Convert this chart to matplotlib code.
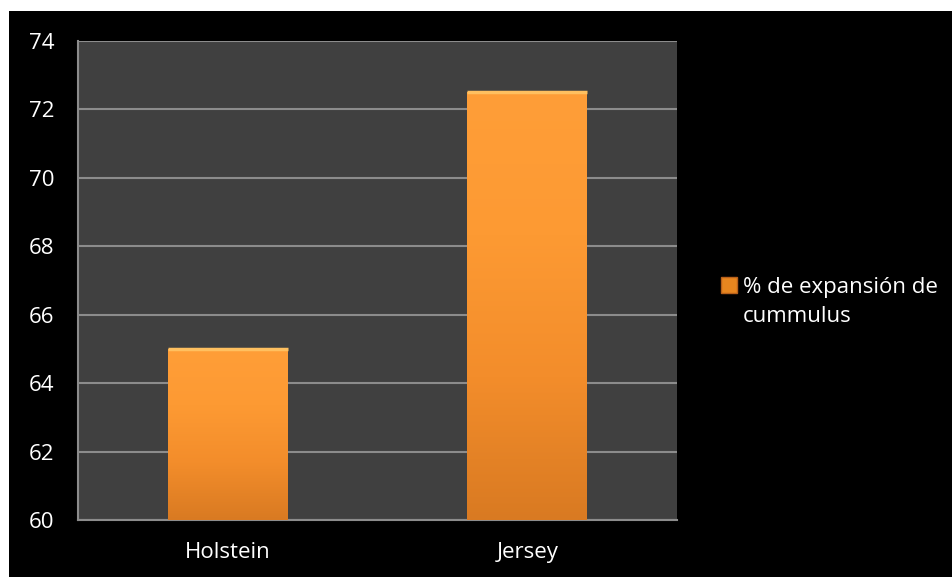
import matplotlib
matplotlib.use("Agg")
import matplotlib.pyplot as plt
import numpy as np
from matplotlib.patches import Rectangle
from matplotlib.colors import LinearSegmentedColormap

categories = ["Holstein", "Jersey"]
values = [65.0, 72.5]
series_name = "% de expansión de\ncummulus"
yticks = [60, 62, 64, 66, 68, 70, 72, 74]

plt.rcParams['font.family'] = ['Open Sans', 'DejaVu Sans']

fig = plt.figure(figsize=(9.52, 5.77), dpi=100, facecolor='white')
W, H = 952, 577
# black chart background
fig.patches.append(Rectangle((9 / W, 0), 1 - 9 / W, 1 - 11 / H, transform=fig.transFigure,
                             facecolor='black', edgecolor='none', zorder=-10))

ax = fig.add_axes([78 / W, 1 - 520 / H, (677 - 78) / W, (520 - 41) / H])
ax.set_zorder(1)
ax.set_facecolor('#404040')

x = np.arange(len(categories))
bars = ax.bar(x, values, width=0.4, color='#F7932E', zorder=3, edgecolor='none')

cmap = LinearSegmentedColormap.from_list('org', ['#D97A22', '#F38D2B', '#FD9A33', '#FF9E38'])
for b in bars:
    x0, y0 = b.get_x(), b.get_y()
    w, h = b.get_width(), b.get_height()
    grad = np.linspace(0, 1, 256).reshape(-1, 1)
    im = ax.imshow(grad, cmap=cmap, origin='lower', aspect='auto',
                   extent=(x0, x0 + w, 60, y0 + h), zorder=3.5)
    im.set_clip_path(b)
    ax.plot([x0, x0 + w], [y0 + h, y0 + h], color='#FFC060', lw=2.5, zorder=4,
            solid_capstyle='butt')

ax.set_xlim(-0.5, 1.5)
ax.set_ylim(60, 74)
ax.set_yticks(yticks)
ax.set_xticks(x)
ax.set_xticklabels(categories)
ax.yaxis.grid(True, color='#8C8C8C', lw=1.5, zorder=1)
ax.set_axisbelow(True)
for s in ['top', 'right']:
    ax.spines[s].set_visible(False)
for s in ['left', 'bottom']:
    ax.spines[s].set_color('#8C8C8C')
    ax.spines[s].set_linewidth(1.5)
ax.tick_params(axis='both', colors='white', labelsize=16, length=0)
ax.tick_params(axis='y', pad=17)
ax.tick_params(axis='x', pad=16)

handle = Rectangle((0, 0), 1, 1, facecolor='#E8861F', edgecolor='#B8601A')
leg = fig.legend([handle], [series_name], loc='center left',
                 bbox_to_anchor=(701 / W, 1 - 302 / H), frameon=False,
                 fontsize=16, labelcolor='white', handlelength=0.7, handleheight=0.7,
                 handletextpad=0.3)
for t in leg.get_texts():
    t.set_linespacing(1.45)
# align the marker with the first text line
try:
    for col in leg._legend_handle_box.get_children():
        for item in col.get_children():
            item.align = 'top'
except Exception:
    pass

fig.savefig('out.png', dpi=100, facecolor=fig.get_facecolor())
